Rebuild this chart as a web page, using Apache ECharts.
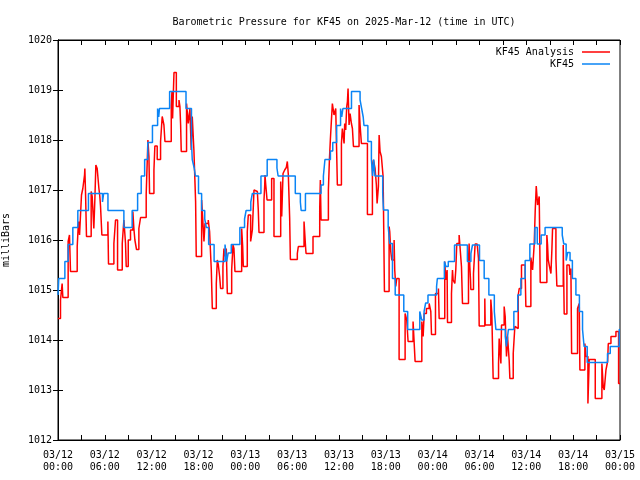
<!DOCTYPE html>
<html><head><meta charset="utf-8">
<script src="https://cdn.jsdelivr.net/npm/echarts@6/dist/echarts.min.js"></script>
<style>html,body{margin:0;padding:0;background:#fff}#c{width:640px;height:480px}</style>
</head><body><div id="c"></div>
<script>
const titleText = 'Barometric Pressure for KF45 on 2025-Mar-12 (time in UTC)';
const yAxisName = 'milliBars';
const seriesNames = ['KF45 Analysis', 'KF45'];
const xTickLabels = ['03/12\n00:00','03/12\n06:00','03/12\n12:00','03/12\n18:00','03/13\n00:00','03/13\n06:00','03/13\n12:00','03/13\n18:00','03/14\n00:00','03/14\n06:00','03/14\n12:00','03/14\n18:00','03/15\n00:00'];
const yMin = 1012, yMax = 1020;

// hours since 03/12 00:00 UTC
const analysisHours = [0,0.32,0.53,0.62,1.30,1.47,1.60,2.46,2.59,2.67,2.76,3.01,3.18,3.40,3.44,3.53,3.65,4.25,4.38,4.59,4.72,4.85,5.02,5.24,5.36,5.45,5.62,6.39,6.47,7.16,7.37,7.63,8.23,8.44,8.65,8.74,9.0,9.29,9.59,9.72,9.85,10.06,10.36,10.58,11.3,11.52,11.65,11.73,12.29,12.41,12.71,13.14,13.35,13.57,13.7,14.51,14.6,14.68,14.77,14.86,15.16,15.5,15.62,15.71,15.79,16.47,16.69,16.9,17.07,17.2,17.41,17.63,17.71,18.4,18.48,18.7,18.83,19.25,19.42,19.64,19.77,20.28,20.41,20.54,20.71,20.83,21.13,21.26,21.39,21.56,21.69,22.25,22.42,22.54,22.67,23.53,23.66,23.74,24.25,24.38,24.68,24.9,25.11,25.32,25.54,25.66,25.75,26.39,26.48,26.52,26.6,26.69,26.78,27.37,27.67,28.53,28.66,28.83,29.04,29.25,29.38,29.51,29.68,29.77,30.66,30.79,31.52,31.73,31.78,32.67,33.53,33.61,33.7,34.64,34.77,34.9,35.02,35.15,35.36,35.58,35.79,36.31,36.43,36.65,36.73,36.86,36.99,37.08,37.16,37.29,37.42,37.59,37.72,37.85,38.57,38.7,38.87,39.64,40.28,40.41,40.62,40.79,40.88,41.05,41.14,41.26,41.43,41.65,41.69,41.82,42.42,42.5,42.63,42.76,43.06,43.14,43.27,43.4,43.7,44.47,44.68,44.85,45.49,45.71,45.75,46.61,46.78,46.91,47.2,47.55,47.76,47.85,48.36,48.74,48.83,49.55,49.68,49.85,49.9,50.41,50.54,50.62,50.84,50.96,51.09,51.39,51.61,51.69,51.82,52.59,52.67,52.76,52.85,52.89,53.23,53.44,53.7,53.87,53.96,54.68,54.73,55.45,55.58,55.75,56.44,56.52,56.74,56.82,57.16,57.29,57.46,57.59,57.8,57.89,58.32,58.53,58.74,58.96,59.09,59.38,59.85,59.94,60.58,60.71,60.8,61.01,61.14,61.27,61.35,61.44,61.65,61.78,62.63,62.72,62.8,62.93,63.15,63.27,63.36,63.79,63.91,64.73,64.85,65.2,65.5,65.58,65.71,65.8,66.56,66.78,66.86,67.5,67.63,67.89,68.06,68.83,69.68,69.85,69.98,70.2,70.41,70.5,70.84,71.48,71.82,72];
const analysisValues = [1014.43,1014.8,1015.13,1014.85,1015.97,1016.1,1015.37,1015.87,1016.27,1016.37,1016.1,1016.9,1017.03,1017.3,1017.43,1016.93,1016.07,1016.97,1016.87,1016.23,1016.8,1017.5,1017.43,1017.03,1016.87,1016.67,1016.1,1016.37,1015.52,1015.93,1016.4,1015.4,1015.93,1016.4,1015.93,1015.47,1016.0,1016.2,1016.57,1016.23,1016.0,1015.81,1016.23,1016.45,1016.93,1018.0,1017.67,1016.93,1017.4,1017.88,1017.61,1017.97,1018.47,1018.3,1017.97,1018.7,1018.97,1018.43,1018.9,1019.35,1018.67,1018.8,1018.67,1018.3,1017.77,1018.73,1018.33,1018.63,1017.8,1018.47,1017.8,1016.77,1015.67,1016.8,1016.6,1015.97,1016.33,1016.4,1016.17,1015.4,1014.63,1015.13,1015.6,1015.5,1015.27,1015.03,1015.47,1015.83,1015.67,1015.83,1014.93,1015.41,1015.9,1015.83,1015.37,1016.23,1015.87,1015.47,1016.17,1016.5,1015.97,1016.2,1017.0,1016.97,1017.01,1016.6,1016.15,1016.8,1017.08,1017.3,1017.13,1016.97,1016.8,1017.23,1016.07,1017.17,1016.47,1017.33,1017.4,1017.45,1017.57,1017.3,1016.43,1015.61,1015.73,1015.87,1016.37,1015.83,1015.73,1016.07,1016.63,1017.2,1016.4,1017.0,1017.6,1018.03,1018.37,1018.73,1018.5,1018.63,1017.1,1017.93,1018.23,1017.93,1018.33,1018.2,1018.67,1018.77,1019.03,1018.3,1018.53,1018.33,1018.23,1017.87,1018.7,1018.3,1017.93,1016.51,1017.5,1017.6,1017.43,1017.1,1016.73,1017.07,1018.1,1017.77,1017.67,1017.27,1016.77,1014.97,1016.27,1016.17,1015.77,1015.6,1016.0,1015.4,1015.07,1015.23,1013.61,1014.53,1014.4,1013.97,1014.37,1014.4,1013.57,1014.37,1014.07,1014.53,1014.63,1014.73,1014.57,1014.11,1014.93,1015.03,1014.43,1015.57,1015.2,1015.4,1014.35,1014.93,1015.4,1015.2,1015.13,1015.4,1015.93,1016.1,1016.13,1015.47,1014.73,1015.57,1015.93,1015.47,1015.2,1015.01,1015.33,1015.92,1015.93,1015.63,1014.28,1014.83,1014.3,1014.81,1014.53,1013.23,1013.53,1014.03,1013.53,1014.3,1014.67,1014.47,1013.67,1014.07,1013.6,1013.23,1013.73,1014.27,1014.23,1014.9,1015.03,1015.5,1015.33,1014.67,1015.65,1015.5,1015.4,1015.92,1016.6,1017.08,1016.9,1016.7,1016.87,1015.15,1016.1,1015.9,1015.61,1015.5,1015.33,1015.79,1016.23,1015.63,1015.08,1015.9,1014.52,1015.5,1015.53,1015.3,1015.43,1013.73,1014.63,1014.73,1013.4,1013.93,1013.67,1012.73,1013.61,1012.83,1013.53,1013.07,1013.0,1013.4,1013.57,1013.93,1014.07,1014.17,1013.13,1013.13];

const obsHours = [0,0.1,0.88,1.3,1.9,2.54,3.9,5.7,5.85,6.4,8.44,9.5,10.2,10.66,11.1,11.5,12.1,12.76,12.9,13.0,14.3,16.4,17.1,17.2,17.45,17.6,18.0,18.4,18.8,19.0,19.3,20.0,21.4,21.6,21.8,22.2,23.3,23.9,24.1,24.7,24.9,26.0,26.8,28.05,28.2,30.4,31.05,31.15,31.7,33.7,34.0,34.2,34.9,35.2,35.7,36.2,36.35,36.5,37.6,38.7,38.9,39.1,39.2,39.7,40.15,40.3,40.45,40.6,41.6,41.7,42.3,42.5,42.85,43.2,44.3,44.8,46.35,46.6,46.9,47.1,47.4,48.5,48.6,49.5,49.7,50.0,50.8,52.45,52.9,53.1,54.0,54.6,55.2,55.9,56.1,57.3,57.45,57.7,58.4,58.9,59.3,59.85,60.45,61.1,61.4,61.9,62.4,64.6,64.8,65.1,65.3,65.6,65.9,66.35,66.8,67.2,67.4,67.8,70.4,70.75,71.9,72];
const obsValues = [1014.9,1015.23,1015.57,1015.91,1016.25,1016.59,1016.93,1016.76,1016.93,1016.59,1016.25,1016.59,1016.93,1017.28,1017.61,1017.95,1018.29,1018.63,1018.46,1018.63,1018.97,1018.63,1017.95,1017.61,1017.44,1017.28,1016.93,1016.59,1016.42,1016.25,1015.91,1015.57,1015.91,1015.57,1015.74,1015.91,1016.25,1016.42,1016.59,1016.76,1016.93,1017.28,1017.61,1017.44,1017.28,1016.93,1016.76,1016.59,1016.93,1017.1,1017.28,1017.61,1017.78,1017.95,1018.29,1018.63,1018.46,1018.63,1018.97,1018.8,1018.63,1018.46,1018.29,1017.97,1017.61,1017.28,1017.61,1017.28,1016.93,1016.6,1016.27,1015.93,1015.23,1014.9,1014.57,1014.21,1014.57,1014.4,1014.57,1014.74,1014.9,1015.07,1015.23,1015.57,1015.47,1015.57,1015.9,1015.57,1015.73,1015.9,1015.59,1015.23,1014.9,1014.57,1014.21,1014.07,1013.87,1014.21,1014.57,1014.9,1015.23,1015.59,1015.92,1016.25,1015.92,1016.1,1016.25,1016.1,1015.92,1015.59,1015.75,1015.59,1015.23,1014.9,1014.57,1014.21,1013.87,1013.55,1013.73,1013.87,1014.21,1014.21];

const FONT = "'DejaVu Sans Mono', monospace";
const RED = '#ff0000', BLUE = '#0a84f5';
const zip = (a, b) => a.map((x, i) => [x, b[i]]);

const chart = echarts.init(document.getElementById('c'), null, {renderer: 'canvas'});
const tickCommon = {show: true, inside: true, length: 5, lineStyle: {color: '#000', width: 1}};
const minorCommon = {show: true, splitNumber: 2, length: 5, lineStyle: {color: '#000', width: 1}};
chart.setOption({
  animation: false,
  backgroundColor: '#fff',
  title: {text: titleText, left: 339, top: 12, textAlign: 'center',
    textStyle: {fontFamily: FONT, fontSize: 10, fontWeight: 'normal', color: '#000'}},
  legend: {
    data: seriesNames, orient: 'vertical', right: 25, top: 42, align: 'right',
    itemWidth: 28, itemHeight: 1.5, itemGap: 2, icon: 'rect',
    textStyle: {fontFamily: FONT, fontSize: 10, color: '#000', padding: [0, 3, 0, 0]}
  },
  grid: {left: 58, right: 20, top: 40, bottom: 40, show: true, borderColor: '#000', borderWidth: 1,
    containLabel: false, outerBoundsMode: 'none'},
  xAxis: [{
    type: 'value', min: 0, max: 72, interval: 6, position: 'bottom',
    axisLine: {show: true, lineStyle: {color: '#000'}},
    axisTick: tickCommon, minorTick: minorCommon, splitLine: {show: false},
    axisLabel: {fontFamily: FONT, fontSize: 10, color: '#000', margin: 9, lineHeight: 12,
      formatter: v => xTickLabels[Math.round(v / 6)] || ''}
  }, {
    type: 'value', min: 0, max: 72, interval: 6, position: 'top',
    axisLine: {show: true, lineStyle: {color: '#000'}},
    axisTick: tickCommon, minorTick: minorCommon, splitLine: {show: false},
    axisLabel: {show: false}
  }],
  yAxis: [{
    type: 'value', min: yMin, max: yMax, interval: 1, position: 'left',
    name: yAxisName, nameLocation: 'middle', nameGap: 47, nameRotate: 90,
    nameTextStyle: {fontFamily: FONT, fontSize: 10, color: '#000'},
    axisLine: {show: true, lineStyle: {color: '#000'}},
    axisTick: tickCommon, splitLine: {show: false},
    axisLabel: {fontFamily: FONT, fontSize: 10, color: '#000', margin: 6, formatter: v => String(v)}
  }, {
    type: 'value', min: yMin, max: yMax, interval: 1, position: 'right',
    axisLine: {show: true, lineStyle: {color: '#000'}},
    axisTick: tickCommon, splitLine: {show: false}, axisLabel: {show: false}
  }],
  series: [{
    name: seriesNames[0], type: 'line', step: 'end', symbol: 'none',
    data: zip(analysisHours, analysisValues),
    lineStyle: {color: RED, width: 1.5}, itemStyle: {color: RED}
  }, {
    name: seriesNames[1], type: 'line', step: 'end', symbol: 'none',
    data: zip(obsHours, obsValues),
    lineStyle: {color: BLUE, width: 1.5}, itemStyle: {color: BLUE}
  }]
});
</script></body></html>
